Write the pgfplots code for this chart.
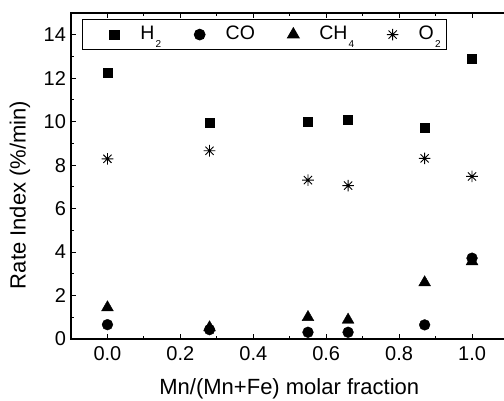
\documentclass[border=0pt]{standalone}
\usepackage{fontspec}
\setmainfont{Liberation Sans}
\usepackage{pgfplots}
\pgfplotsset{compat=1.18}
\pgfdeclareplotmark{ast8}{%
  \pgfpathmoveto{\pgfpoint{-\pgfplotmarksize}{0pt}}\pgfpathlineto{\pgfpoint{\pgfplotmarksize}{0pt}}%
  \pgfpathmoveto{\pgfpoint{0pt}{-\pgfplotmarksize}}\pgfpathlineto{\pgfpoint{0pt}{\pgfplotmarksize}}%
  \pgfpathmoveto{\pgfpoint{-0.7071\pgfplotmarksize}{-0.7071\pgfplotmarksize}}\pgfpathlineto{\pgfpoint{0.7071\pgfplotmarksize}{0.7071\pgfplotmarksize}}%
  \pgfpathmoveto{\pgfpoint{-0.7071\pgfplotmarksize}{0.7071\pgfplotmarksize}}\pgfpathlineto{\pgfpoint{0.7071\pgfplotmarksize}{-0.7071\pgfplotmarksize}}%
  \pgfusepathqstroke}
\newcommand{\lsub}[1]{\kern1.2pt\raisebox{-7.4pt}[0pt][0pt]{\fontsize{10}{10}\selectfont #1}}
\begin{document}
\begin{tikzpicture}
\begin{axis}[
  at={(0pt,0pt)}, anchor=south west,
  scale only axis, width=437.5pt, height=326pt,
  xmin=-0.1, xmax=1.1, ymin=0, ymax=15,
  xtick={0,0.2,0.4,0.6,0.8,1.0}, ytick={0,2,4,6,8,10,12,14},
  minor x tick num=1, minor y tick num=1,
  major tick length=5pt, minor tick length=3pt,
  tick style={black, line width=0.9pt},
  axis line style={line width=1.1pt},
  /pgf/number format/assume math mode=true,
  tick label style={font=\fontsize{20}{24}\selectfont},
  x tick label style={/pgf/number format/fixed, /pgf/number format/fixed zerofill, /pgf/number format/precision=1, yshift=-4pt},
  y tick label style={xshift=-1.5pt},
  xlabel={Mn/(Mn+Fe) molar fraction},
  ylabel={Rate Index (\%/min)},
  label style={font=\fontsize{22}{26}\selectfont},
  xlabel style={at={(axis description cs:0.499,-0.153)}, anchor=center},
  ylabel style={at={(axis description cs:-0.1166,0.442)}, anchor=center},
  legend columns=4,
  legend style={at={(axis description cs:0.02514,0.9807)}, anchor=north west,
    font=\fontsize{19.5}{23}\selectfont, draw=black, line width=0.9pt,
    inner xsep=2.6pt, inner ysep=0pt,
    nodes={inner xsep=3pt, inner ysep=6pt, text height=14pt, text depth=3.7pt},
    /tikz/every even column/.append style={column sep=6pt}},
  legend image code/.code={\path[draw=none,fill=none] (-29.4pt,0pt) rectangle (23pt,0pt); \draw[#1] plot coordinates {(0pt,0pt)};},
]
\addplot[only marks, mark=square*, mark size=4.6pt, black] coordinates {
 (0,12.27) (0.28,9.97) (0.55,9.98) (0.66,10.08) (0.87,9.74) (1.0,12.89)};
\addlegendentry{H\lsub{2}}
\addplot[only marks, mark=*, mark size=5.4pt, black] coordinates {
 (0,0.66) (0.28,0.43) (0.55,0.31) (0.66,0.31) (0.87,0.65) (1.0,3.72)};
\addlegendentry{CO}
\addplot[only marks, mark=triangle*, mark size=6.8pt, black] coordinates {
 (0,1.45) (0.28,0.53) (0.55,1.0) (0.66,0.88) (0.87,2.6) (1.0,3.57)};
\addlegendentry{CH\lsub{4}}
\addplot[only marks, mark=ast8, mark size=5.8pt, black, line width=0.9pt] coordinates {
 (0,8.29) (0.28,8.66) (0.55,7.31) (0.66,7.06) (0.87,8.31) (1.0,7.48)};
\addlegendentry{O\lsub{2}}
\end{axis}
\pgfresetboundingbox
\path[use as bounding box] (-71pt,-62pt) rectangle (433pt,339pt);
\end{tikzpicture}
\end{document}
